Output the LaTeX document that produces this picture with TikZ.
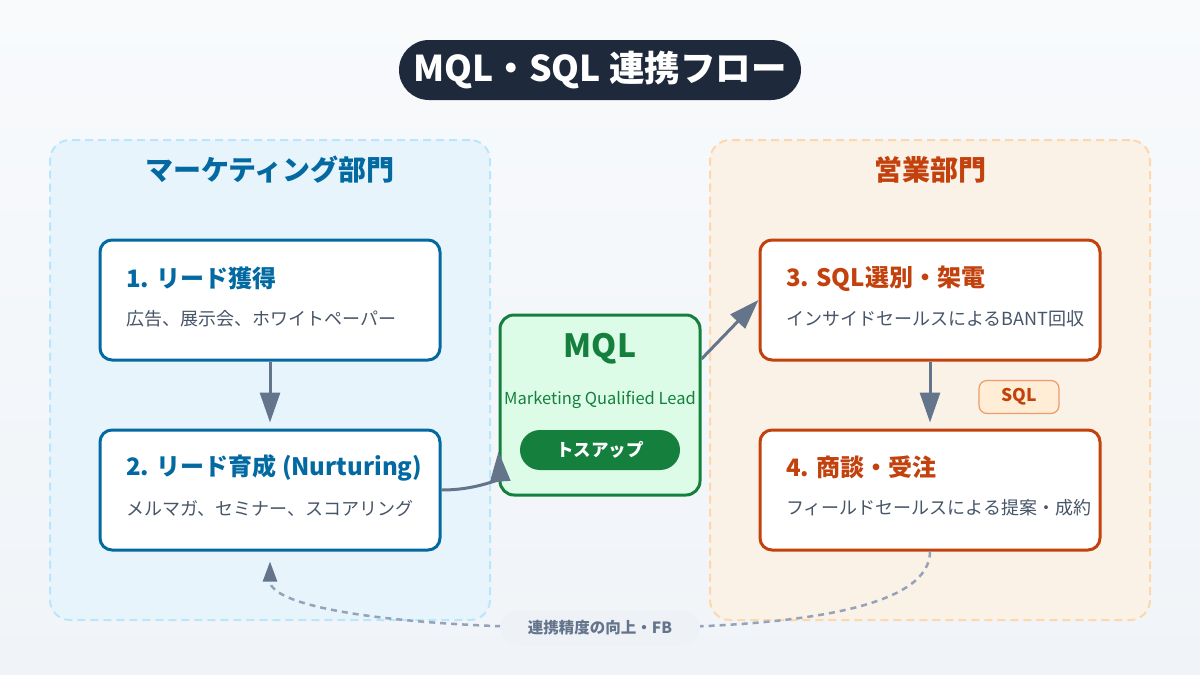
\documentclass[tikz,border=0pt]{standalone}
\usepackage{fontspec}
\setmainfont{Noto Sans CJK JP}
\usetikzlibrary{arrows.meta}
\definecolor{navy}{HTML}{1E293B}
\definecolor{bgtop}{HTML}{F8FAFC}
\definecolor{bgbot}{HTML}{F0F4F8}
\definecolor{mkblue}{HTML}{0369A1}
\definecolor{mkfill}{HTML}{E8F4FC}
\definecolor{mkline}{HTML}{BAE6FD}
\definecolor{slorange}{HTML}{C2410C}
\definecolor{slfill}{HTML}{FAF1E7}
\definecolor{slline}{HTML}{FED7AA}
\definecolor{mqlgreen}{HTML}{15803D}
\definecolor{mqlfill}{HTML}{DCFCE7}
\definecolor{arrgray}{HTML}{64748B}
\definecolor{subgray}{HTML}{475569}
\definecolor{fbgray}{HTML}{94A3B8}
\definecolor{tagfill}{HTML}{FFEDD5}
\definecolor{tagline}{HTML}{EE9B6B}
\definecolor{labelbg}{HTML}{EEF2F7}

\begin{document}
\begin{tikzpicture}[
    x=1pt, y=-1pt,
    panel/.style={rectangle, rounded corners=20pt, line width=2pt, dash pattern=on 8pt off 5pt, minimum width=440pt, minimum height=480pt},
    head/.style={font=\fontsize{28}{32}\selectfont\bfseries},
    stage/.style={rectangle, draw, fill=white, rounded corners=12pt, line width=3pt, minimum width=340pt, minimum height=120pt},
    stitle/.style={anchor=west, inner sep=0pt, font=\fontsize{24}{28}\selectfont\bfseries},
    ssub/.style={anchor=west, inner sep=0pt, text=subgray, font=\fontsize{18}{21}\selectfont},
    arr/.style={-{Triangle[length=30pt, width=20pt]}, line width=3pt, draw=arrgray},
    fbline/.style={line width=2.5pt, draw=fbgray, dash pattern=on 6pt off 5pt}
]
    \useasboundingbox (0,0) rectangle (1200,675);
    \shade[top color=bgtop, bottom color=bgbot] (0,0) rectangle (1200,675);

    % title
    \node[fill=navy, text=white, rounded corners=30pt, minimum width=402pt, minimum height=60pt, font=\fontsize{35.5}{40}\selectfont\bfseries] (title) at (600,70) {MQL・SQL 連携フロー};

    % departments
    \node[panel, draw=mkline, fill=mkfill] (mkt) at (270,380) {};
    \node[panel, draw=slline, fill=slfill] (sales) at (930,380) {};
    \node[head, text=mkblue] (mkthead) at (270,170) {マーケティング部門};
    \node[head, text=slorange] (saleshead) at (930,170) {営業部門};

    % stages
    \node[stage, draw=mkblue] (b1) at (270,300) {};
    \node[stitle, text=mkblue] (b1t) at (126,278) {1. リード獲得};
    \node[ssub] (b1s) at (126,319) {広告、展示会、ホワイトペーパー};

    \node[stage, draw=mkblue] (b2) at (270,490) {};
    \node[stitle, text=mkblue] (b2t) at (126,468) {2. リード育成 (Nurturing)};
    \node[ssub] (b2s) at (126,509) {メルマガ、セミナー、スコアリング};

    \node[stage, draw=slorange] (b3) at (930,300) {};
    \node[stitle, text=slorange] (b3t) at (786,279) {3. SQL選別・架電};
    \node[ssub] (b3s) at (786,319) {インサイドセールスによるBANT回収};

    \node[stage, draw=slorange] (b4) at (930,490) {};
    \node[stitle, text=slorange] (b4t) at (786,467) {4. 商談・受注};
    \node[ssub] (b4s) at (786,508) {フィールドセールスによる提案・成約};

    % MQL hand-off
    \node[rectangle, draw=mqlgreen, fill=mqlfill, rounded corners=14pt, line width=3pt, minimum width=200pt, minimum height=180pt] (mql) at (600,405) {};
    \node[text=mqlgreen, font=\fontsize{32}{36}\selectfont\bfseries] (mqlt) at (600,349) {MQL};
    \node[text=mqlgreen, font=\fontsize{16.5}{19}\selectfont] (mqls) at (600,400) {Marketing Qualified Lead};
    \node[fill=mqlgreen, text=white, rounded corners=20pt, minimum width=160pt, minimum height=40pt, font=\fontsize{17.5}{20}\selectfont\bfseries] (toss) at (600,450) {トスアップ};

    \node[fill=tagfill, draw=tagline, line width=1.2pt, rounded corners=8pt, minimum width=80pt, minimum height=33pt, text=slorange, font=\fontsize{17.5}{20}\selectfont\bfseries] (sqltag) at (1019,397) {SQL};

    % flow
    \draw[arr] (b1.south) -- ([yshift=6pt]b2.north);
    \draw[arr] (b3.south) -- ([yshift=6pt]b4.north);
    \draw[arr] (b2.east) .. controls (480,490) and (500,477) .. ([yshift=45pt]mql.south west);
    \draw[arr] ([yshift=46pt]mql.east) -- (b3.west);

    % feedback loop
    \coordinate (fbpt) at (600,628);
    \draw[fbline] (b4.south) .. controls (930,603) and (820,629) .. (fbpt);
    \draw[fbline, -{Triangle[length=20pt, width=14pt, color=arrgray]}, shorten >=10pt] (fbpt) .. controls (380,628) and (270,605) .. (b2.south);
    \node[fill=labelbg, rounded corners=17pt, minimum width=200pt, minimum height=34pt, text=arrgray, font=\fontsize{15.5}{18}\selectfont\bfseries] (fb) at (fbpt) {連携精度の向上・FB};
\end{tikzpicture}
\end{document}
